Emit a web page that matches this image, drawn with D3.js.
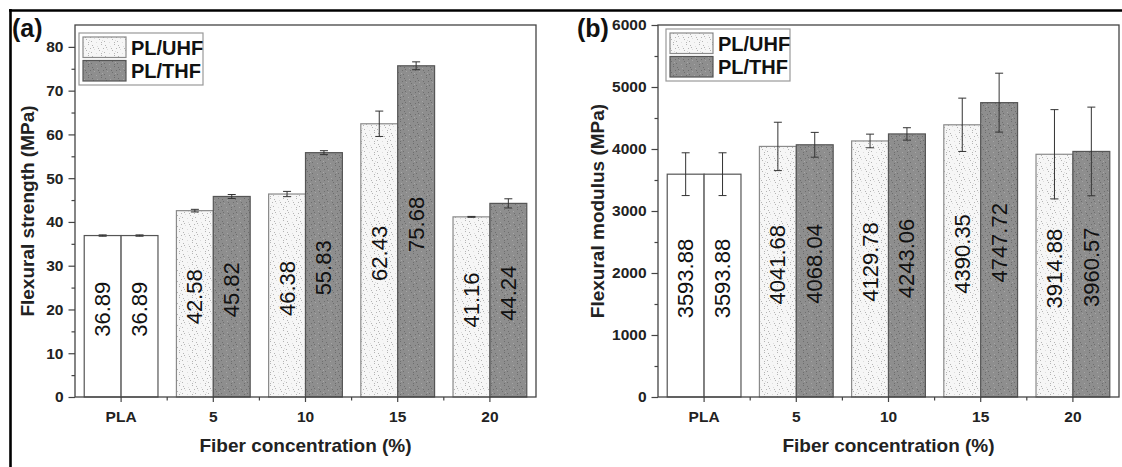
<!DOCTYPE html>
<html>
<head>
<meta charset="utf-8">
<script src="https://cdn.jsdelivr.net/npm/d3@7"></script>
<style>
  html, body { margin: 0; padding: 0; background: #fff; }
  svg { display: block; font-family: "Liberation Sans", Arial, sans-serif; }
</style>
</head>
<body>
<svg id="fig" width="1122" height="467"></svg>
<script>
// Fibre concentration groups
const categories = ["PLA", "5", "10", "15", "20"];
const seriesNames = ["PL/UHF", "PL/THF"];

// Flexural strength (MPa) and its standard deviation
const strengthUHF = [36.89, 42.58, 46.38, 62.43, 41.16];
const strengthTHF = [36.89, 45.82, 55.83, 75.68, 44.24];
const strengthErrUHF = [0.15, 0.3, 0.6, 2.9, 0.1];
const strengthErrTHF = [0.15, 0.45, 0.45, 0.9, 1.05];

// Flexural modulus (MPa) and its standard deviation
const modulusUHF = [3593.88, 4041.68, 4129.78, 4390.35, 3914.88];
const modulusTHF = [3593.88, 4068.04, 4243.06, 4747.72, 3960.57];
const modulusErrUHF = [345, 390, 110, 430, 720];
const modulusErrTHF = [345, 200, 100, 475, 715];

// Axis ticks
const strengthTicks = [0, 10, 20, 30, 40, 50, 60, 70, 80];
const strengthMinor = [5, 15, 25, 35, 45, 55, 65, 75];
const modulusTicks = [0, 1000, 2000, 3000, 4000, 5000, 6000];
const modulusMinor = [500, 1500, 2500, 3500, 4500, 5500];

const svg = d3.select("#fig");

// speckled textures for the two fibre types
const defs = svg.append("defs");
function speckle(id, base, dark, light) {
  const p = defs.append("pattern").attr("id", id)
    .attr("patternUnits", "userSpaceOnUse").attr("width", 13).attr("height", 11);
  p.append("rect").attr("width", 13).attr("height", 11).attr("fill", base);
  const dots = [[1,1,dark],[6,2,light],[10,0,dark],[3,5,light],[8,6,dark],[12,4,dark],
                [0,8,dark],[5,9,light],[10,9,dark],[7,4,dark],[2,3,dark],[11,7,light]];
  dots.forEach(([x, y, c]) => p.append("rect").attr("x", x).attr("y", y)
    .attr("width", 1).attr("height", 1).attr("fill", c));
}
speckle("texUHF", "#f6f6f6", "#b4b4b4", "#dcdcdc");
speckle("texTHF", "#8e8e8e", "#6e6e6e", "#a6a6a6");

// outer figure frame (top and left edges)
svg.append("line").attr("x1", 9).attr("y1", 10.5).attr("x2", 1122).attr("y2", 10.5)
  .attr("stroke", "#000").attr("stroke-width", 2.6);
svg.append("line").attr("x1", 10.5).attr("y1", 9).attr("x2", 10.5).attr("y2", 467)
  .attr("stroke", "#000").attr("stroke-width", 2.6);

function panel(cfg) {
  const g = svg.append("g");
  const x = d3.scaleBand().domain(categories).range([cfg.left, cfg.right])
    .paddingInner(0.2).paddingOuter(0.1);
  const sub = d3.scaleBand().domain(seriesNames).range([0, x.bandwidth()]);
  const y = d3.scaleLinear().domain(cfg.domain).range([cfg.bottom, cfg.top]);
  const step = x.step();

  const rows = [];
  categories.forEach((c, i) => {
    seriesNames.forEach((s, k) => {
      rows.push({
        cat: c, idx: i, series: s, k: k,
        value: cfg.values[k][i], err: cfg.errors[k][i]
      });
    });
  });

  const fillOf = d => d.idx === 0 ? "#ffffff" : (d.k === 0 ? "url(#texUHF)" : "url(#texTHF)");
  const strokeOf = d => d.idx === 0 ? "#555" : (d.k === 0 ? "#8a8a8a" : "#555");

  // bars
  g.selectAll("rect.bar").data(rows).join("rect").attr("class", "bar")
    .attr("x", d => x(d.cat) + sub(d.series))
    .attr("y", d => y(d.value))
    .attr("width", sub.bandwidth())
    .attr("height", d => y(0) - y(d.value))
    .attr("fill", fillOf)
    .attr("stroke", strokeOf)
    .attr("stroke-width", 1.2);

  // error bars
  const eb = g.selectAll("g.err").data(rows).join("g").attr("class", "err")
    .attr("stroke", "#333").attr("stroke-width", 1);
  const cx = d => x(d.cat) + sub(d.series) + sub.bandwidth() / 2;
  eb.append("line").attr("x1", cx).attr("x2", cx)
    .attr("y1", d => y(d.value + d.err)).attr("y2", d => y(d.value - d.err));
  eb.append("line").attr("x1", d => cx(d) - 4).attr("x2", d => cx(d) + 4)
    .attr("y1", d => y(d.value + d.err)).attr("y2", d => y(d.value + d.err));
  eb.append("line").attr("x1", d => cx(d) - 4).attr("x2", d => cx(d) + 4)
    .attr("y1", d => y(d.value - d.err)).attr("y2", d => y(d.value - d.err));

  // value labels inside bars
  const fmt = d3.format(".2f");
  g.selectAll("text.val").data(rows).join("text").attr("class", "val")
    .attr("transform", d => `translate(${cx(d) + 7.5},${(y(d.value) + y(0)) / 2 - 7}) rotate(-90)`)
    .attr("text-anchor", "middle")
    .attr("font-size", 22)
    .attr("fill", "#111")
    .text(d => fmt(d.value));

  // plot frame
  g.append("rect").attr("x", cfg.left).attr("y", cfg.top)
    .attr("width", cfg.right - cfg.left).attr("height", cfg.bottom - cfg.top)
    .attr("fill", "none").attr("stroke", "#444").attr("stroke-width", 1.3);

  // y axis: major and minor ticks
  const yAxis = g.append("g").attr("transform", `translate(${cfg.left},0)`)
    .call(d3.axisLeft(y).tickValues(cfg.ticks).tickSize(6.5).tickPadding(5)
      .tickFormat(d3.format("d")));
  const yMinor = g.append("g").attr("transform", `translate(${cfg.left},0)`)
    .call(d3.axisLeft(y).tickValues(cfg.minor).tickSize(3.5).tickFormat(""));
  [yAxis, yMinor].forEach(a => {
    a.select(".domain").remove();
    a.selectAll("line").attr("stroke", "#444").attr("stroke-width", 1.2);
  });
  yAxis.selectAll("text").attr("font-size", 15.5).attr("font-weight", "bold").attr("fill", "#222");

  // x axis: category ticks and boundary ticks
  const xAxis = g.append("g").attr("transform", `translate(0,${cfg.bottom})`)
    .call(d3.axisBottom(x).tickSize(5).tickPadding(9));
  xAxis.select(".domain").remove();
  xAxis.selectAll("line").attr("stroke", "#444").attr("stroke-width", 1.2);
  xAxis.selectAll("text").attr("font-size", 15.5).attr("font-weight", "bold").attr("fill", "#222");
  const bounds = categories.slice(0, -1).map(c => x(c) + x.bandwidth() / 2 + step / 2);
  g.selectAll("line.xminor").data(bounds).join("line").attr("class", "xminor")
    .attr("x1", d => d).attr("x2", d => d)
    .attr("y1", cfg.bottom).attr("y2", cfg.bottom + 3.5)
    .attr("stroke", "#444").attr("stroke-width", 1.2);

  // axis titles
  g.append("text")
    .attr("transform", `translate(${cfg.yTitleX},${(cfg.top + cfg.bottom) / 2}) rotate(-90)`)
    .attr("text-anchor", "middle").attr("font-size", 19).attr("font-weight", "bold")
    .attr("fill", "#222").text(cfg.yTitle);
  g.append("text")
    .attr("x", (cfg.left + cfg.right) / 2).attr("y", 452)
    .attr("text-anchor", "middle").attr("font-size", 19).attr("font-weight", "bold")
    .attr("fill", "#222").text("Fiber concentration (%)");

  // panel letter
  g.append("text").attr("x", cfg.letterX).attr("y", 37)
    .attr("font-size", 25).attr("font-weight", "bold").attr("fill", "#111").text(cfg.letter);

  // legend
  const L = cfg.legend;
  g.append("rect").attr("x", L.x).attr("y", L.y).attr("width", L.w).attr("height", L.h)
    .attr("fill", "#fff").attr("stroke", "#999").attr("stroke-width", 1.2);
  seriesNames.forEach((s, k) => {
    g.append("rect").attr("x", L.x + 4).attr("y", L.y + 4 + k * 23.5)
      .attr("width", 43).attr("height", 20.5)
      .attr("fill", k === 0 ? "url(#texUHF)" : "url(#texTHF)")
      .attr("stroke", k === 0 ? "#8a8a8a" : "#555").attr("stroke-width", 1.2);
    g.append("text").attr("x", L.x + 52).attr("y", L.y + 22 + k * 23)
      .attr("font-size", 20).attr("font-weight", "bold").attr("fill", "#111").text(s);
  });
}

panel({
  left: 75, right: 536, top: 25, bottom: 397,
  domain: [0, 85], ticks: strengthTicks, minor: strengthMinor,
  values: [strengthUHF, strengthTHF], errors: [strengthErrUHF, strengthErrTHF],
  yTitle: "Flexural strength (MPa)", yTitleX: 34,
  letter: "(a)", letterX: 12,
  legend: { x: 79, y: 33, w: 124, h: 52 }
});

panel({
  left: 658, right: 1119, top: 25, bottom: 397,
  domain: [0, 6000], ticks: modulusTicks, minor: modulusMinor,
  values: [modulusUHF, modulusTHF], errors: [modulusErrUHF, modulusErrTHF],
  yTitle: "Flexural modulus (MPa)", yTitleX: 604,
  letter: "(b)", letterX: 577,
  legend: { x: 666, y: 29, w: 124, h: 52 }
});
</script>
</body>
</html>
